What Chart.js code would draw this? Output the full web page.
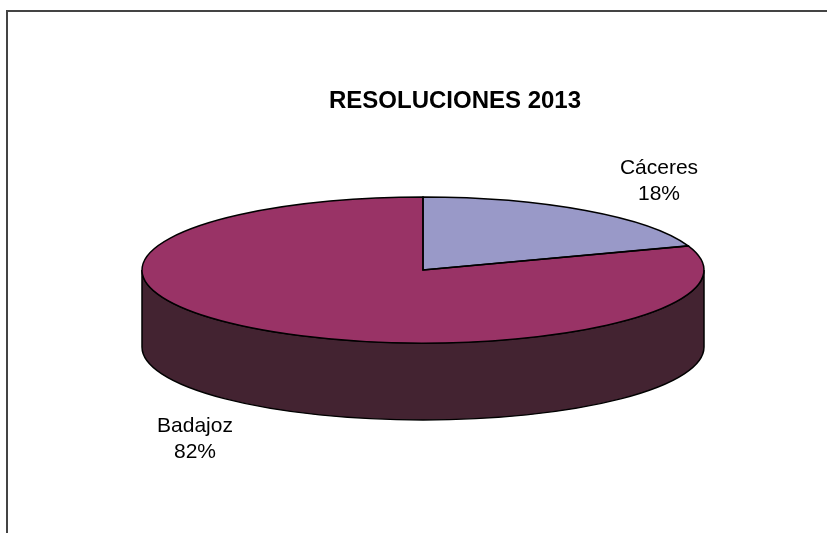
<!DOCTYPE html>
<html>
<head>
<meta charset="utf-8">
<title>Resoluciones 2013</title>
<script src="https://cdn.jsdelivr.net/npm/chart.js@4"></script>
<style>
  html, body { margin: 0; padding: 0; background: #fff; }
  #wrap { position: relative; width: 827px; height: 533px; overflow: hidden; }
  #frame { position: absolute; left: 6px; top: 10px; width: 840px; height: 540px; border: 2px solid #444; }
  canvas { position: absolute; left: 0; top: 0; }
</style>
</head>
<body>
<div id="wrap">
  <div id="frame"></div>
  <canvas id="myChart" width="827" height="533"></canvas>
</div>
<script>
var chartTitle = "RESOLUCIONES 2013";
var provinces = ["Cáceres", "Badajoz"];
var percents = [18, 82];
var sliceColors = ["#9999c8", "#993366"];

// look of the tilted pie
var squash = 73 / 281;
var depth = 77;
var sideColor = "#432331";
var fontName = "Liberation Sans, Arial, sans-serif";

// label x and baseline of the first text line
var labelSpots = [[659, 174], [195, 432]];

// the back of a tilted pie looks shorter, so the front angles get pushed around a bit
var tiltAngle = a => {
  var fromTop = a + Math.PI / 2;
  return a + 0.134 * Math.sin(2 * fromTop);
};

var pie3d = {
  id: "pie3d",
  afterDatasetsUpdate(chart) {
    chart.getDatasetMeta(0).data.forEach(arc => {
      arc.startAngle = tiltAngle(arc.startAngle);
      arc.endAngle = tiltAngle(arc.endAngle);
    });
  },
  beforeDatasetsDraw(chart) {
    var ctx = chart.ctx;
    var arc = chart.getDatasetMeta(0).data[0];
    var rx = arc.outerRadius;
    var ry = rx * squash;
    // side wall
    ctx.save();
    ctx.beginPath();
    ctx.ellipse(arc.x, arc.y, rx, ry, 0, Math.PI, 0, true);
    ctx.lineTo(arc.x + rx, arc.y + depth);
    ctx.ellipse(arc.x, arc.y + depth, rx, ry, 0, 0, Math.PI, false);
    ctx.closePath();
    ctx.fillStyle = sideColor;
    ctx.fill();
    ctx.lineWidth = 1.5;
    ctx.strokeStyle = "#000";
    ctx.stroke();
    ctx.restore();
    // squash the library's own arcs into the top face
    ctx.save();
    ctx.translate(arc.x, arc.y);
    ctx.scale(1, squash);
    ctx.translate(-arc.x, -arc.y);
  },
  afterDatasetsDraw(chart) {
    var ctx = chart.ctx;
    ctx.restore();
    var meta = chart.getDatasetMeta(0);
    ctx.save();
    ctx.lineWidth = 1.5;
    ctx.strokeStyle = "#000";
    meta.data.forEach(arc => {
      var rx = arc.outerRadius;
      var ry = rx * squash;
      // ellipse() wants the angle before squashing, same as the arc's
      ctx.beginPath();
      ctx.moveTo(arc.x, arc.y);
      ctx.ellipse(arc.x, arc.y, rx, ry, 0, arc.startAngle, arc.endAngle);
      ctx.closePath();
      ctx.stroke();
    });
    ctx.restore();
    // texts
    ctx.save();
    ctx.fillStyle = "#000";
    ctx.textAlign = "center";
    ctx.textBaseline = "alphabetic";
    ctx.font = "bold 24px " + fontName;
    ctx.fillText(chartTitle, 455, 108);
    ctx.font = "21px " + fontName;
    provinces.forEach((name, i) => {
      ctx.fillText(name, labelSpots[i][0], labelSpots[i][1]);
      ctx.fillText(percents[i] + "%", labelSpots[i][0], labelSpots[i][1] + 26);
    });
    ctx.restore();
  }
};

var newChart = new Chart(document.getElementById("myChart"), {
  type: "pie",
  data: {
    labels: provinces,
    datasets: [
      {
        data: percents,
        backgroundColor: sliceColors,
        borderWidth: 0,
        clip: false
      }
    ]
  },
  options: {
    responsive: false,
    animation: false,
    radius: 281,
    layout: { padding: { left: 19, top: 7 } },
    plugins: {
      legend: { display: false },
      title: { display: false },
      tooltip: { enabled: false }
    }
  },
  plugins: [pie3d]
});
</script>
</body>
</html>
